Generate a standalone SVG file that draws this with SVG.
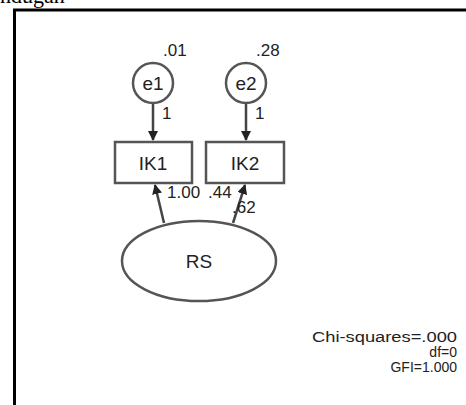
<svg xmlns="http://www.w3.org/2000/svg" width="466" height="405" viewBox="0 0 466 405">
<style>
.t{font-family:"Liberation Sans",Arial,sans-serif;fill:#222}
.s{font-size:17px}
.f{font-size:14px}
.n{font-size:19px}
.node{fill:#fff;stroke:#555;stroke-width:2.5}
.c{stroke:#444;stroke-width:2.5;fill:none}
</style>
<defs>
<marker id="ah" viewBox="0 0 10 10" refX="9" refY="5" markerWidth="4" markerHeight="4" orient="auto" markerUnits="strokeWidth">
<path d="M0,0L10,5L0,10z" fill="#222"/>
</marker>
</defs>
<rect width="466" height="405" fill="#fff"/>
<text x="0" y="3" font-family="Liberation Serif,serif" font-size="22" fill="#000">ndugan</text>
<path d="M14.5,405V10H466" fill="none" stroke="#000" stroke-width="3"/>
<g id="connectors">
<line class="c" x1="153" y1="104" x2="153" y2="140" marker-end="url(#ah)"/>
<line class="c" x1="246" y1="104" x2="246" y2="140" marker-end="url(#ah)"/>
<line class="c" x1="164" y1="223" x2="155" y2="185" marker-end="url(#ah)"/>
<line class="c" x1="233" y1="223" x2="245" y2="185" marker-end="url(#ah)"/>
<text class="t s" x="162" y="119">1</text>
<text class="t s" x="255" y="119">1</text>
<text class="t s" x="167" y="198">1.00</text>
<text class="t s" x="232" y="213">.62</text>
</g>
<g id="e1">
<circle class="node" cx="153" cy="83" r="20"/>
<text class="t n" x="153" y="90" text-anchor="middle">e1</text>
<text class="t s" x="163" y="56">.01</text>
</g>
<g id="e2">
<circle class="node" cx="246" cy="83" r="20"/>
<text class="t n" x="246" y="90" text-anchor="middle">e2</text>
<text class="t s" x="256" y="56">.28</text>
</g>
<g id="IK1">
<rect class="node" x="115" y="142" width="77" height="41"/>
<text class="t n" x="153" y="170" text-anchor="middle">IK1</text>
</g>
<g id="IK2">
<rect class="node" x="206" y="142" width="78" height="41"/>
<text class="t n" x="245" y="170" text-anchor="middle">IK2</text>
<text class="t s" x="208" y="198">.44</text>
</g>
<g id="RS">
<ellipse class="node" cx="199" cy="261" rx="77" ry="40"/>
<text class="t n" x="199" y="268" text-anchor="middle">RS</text>
</g>
<g id="fit">
<text class="t f" x="312" y="342" textLength="145" lengthAdjust="spacingAndGlyphs">Chi-squares=.000</text>
<text class="t f" x="457" y="357" text-anchor="end">df=0</text>
<text class="t f" x="457" y="372" text-anchor="end">GFI=1.000</text>
</g>
</svg>
